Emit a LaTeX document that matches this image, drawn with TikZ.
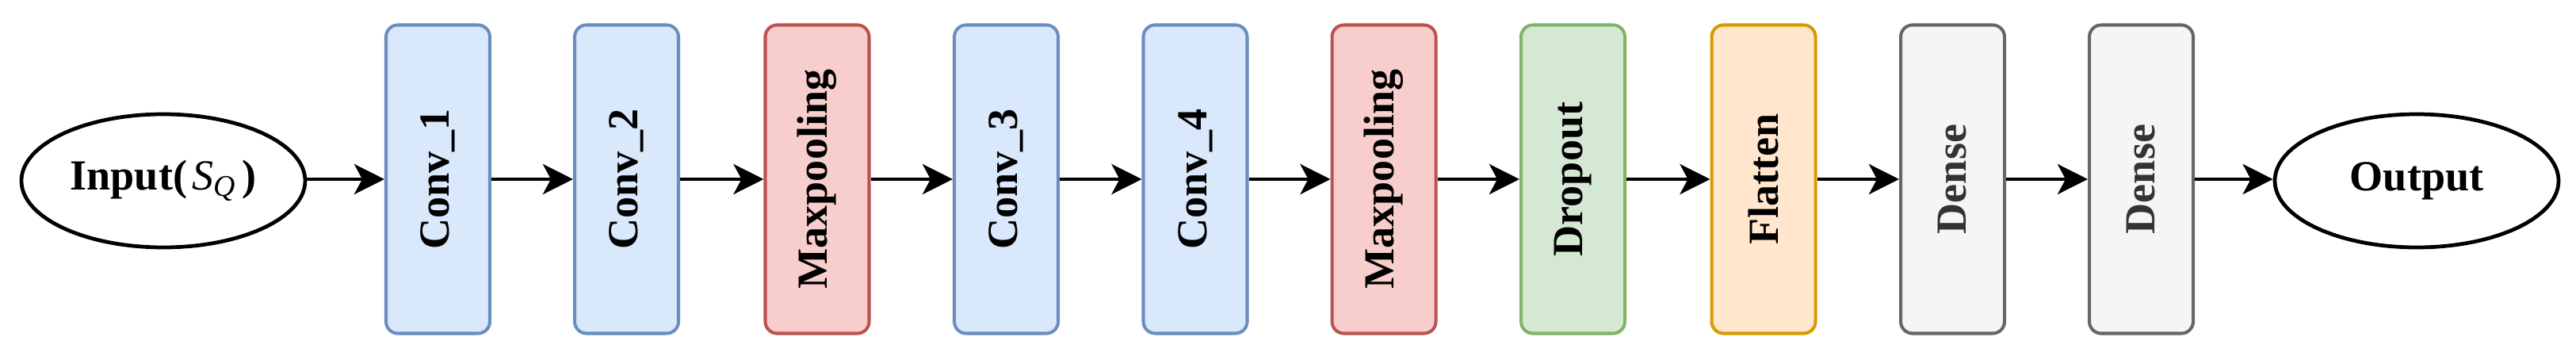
\documentclass[tikz,border=0pt]{standalone}
\usepackage{fontspec}
\setmainfont{Liberation Serif}
\usetikzlibrary{arrows.meta,shapes.geometric}
\definecolor{bluefill}{HTML}{DAE8FC}\definecolor{bluedraw}{HTML}{6C8EBF}
\definecolor{redfill}{HTML}{F8CECC}\definecolor{reddraw}{HTML}{B85450}
\definecolor{greenfill}{HTML}{D5E8D4}\definecolor{greendraw}{HTML}{82B366}
\definecolor{orangefill}{HTML}{FFE6CC}\definecolor{orangedraw}{HTML}{D79B00}
\definecolor{grayfill}{HTML}{F5F5F5}\definecolor{graydraw}{HTML}{666666}
\definecolor{graytext}{HTML}{333333}
\tikzset{
  layer/.style={rectangle, rounded corners=0.15cm, line width=1.15pt,
    minimum width=1.31cm, minimum height=3.89cm, inner sep=0pt,
    font=\fontsize{15.4}{18}\selectfont\bfseries},
  conv/.style={layer, fill=bluefill, draw=bluedraw},
  pool/.style={layer, fill=redfill, draw=reddraw},
  drop/.style={layer, fill=greenfill, draw=greendraw},
  flat/.style={layer, fill=orangefill, draw=orangedraw},
  dense/.style={layer, fill=grayfill, draw=graydraw, text=graytext},
  term/.style={ellipse, draw=black, line width=1.35pt, inner sep=0pt,
    minimum width=3.58cm, minimum height=1.68cm,
    font=\fontsize{15.4}{18}\selectfont\bfseries},
  flow/.style={line width=1.25pt, -{Stealth[length=0.38cm, width=0.38cm, inset=0.1cm]}}
}
\newcommand{\vlab}[1]{\rotatebox{90}{#1}}
\begin{document}
\begin{tikzpicture}
\useasboundingbox (0,0) rectangle (32.5,-4.53);
\node[term] (in) at (2.06,-2.28) {Input(\kern0.12em\textit{\mdseries S}\textsubscript{\textit{\mdseries Q}}\kern0.12em)};
\node[conv]  (c1) at (5.525,-2.26) {\vlab{Conv\_1}};
\node[conv]  (c2) at (7.905,-2.26) {\vlab{Conv\_2}};
\node[pool]  (p1) at (10.31,-2.26) {\vlab{Maxpooling}};
\node[conv]  (c3) at (12.695,-2.26) {\vlab{Conv\_3}};
\node[conv]  (c4) at (15.08,-2.26) {\vlab{Conv\_4}};
\node[pool]  (p2) at (17.46,-2.26) {\vlab{Maxpooling}};
\node[drop]  (d1) at (19.845,-2.26) {\vlab{Dropout}};
\node[flat]  (f1) at (22.25,-2.26) {\vlab{Flatten}};
\node[dense] (e1) at (24.635,-2.26) {\vlab{Dense}};
\node[dense] (e2) at (27.015,-2.26) {\vlab{Dense}};
\node[term] (out) at (30.49,-2.28) {Output};
\draw[flow] (in.east |- c1.west) -- (c1.west);
\foreach \a/\b in {c1/c2,c2/p1,p1/c3,c3/c4,c4/p2,p2/d1,d1/f1,f1/e1,e1/e2}
  \draw[flow] (\a.east) -- (\b.west);
\draw[flow] (e2.east) -- (e2.east -| out.west);
\end{tikzpicture}
\end{document}
